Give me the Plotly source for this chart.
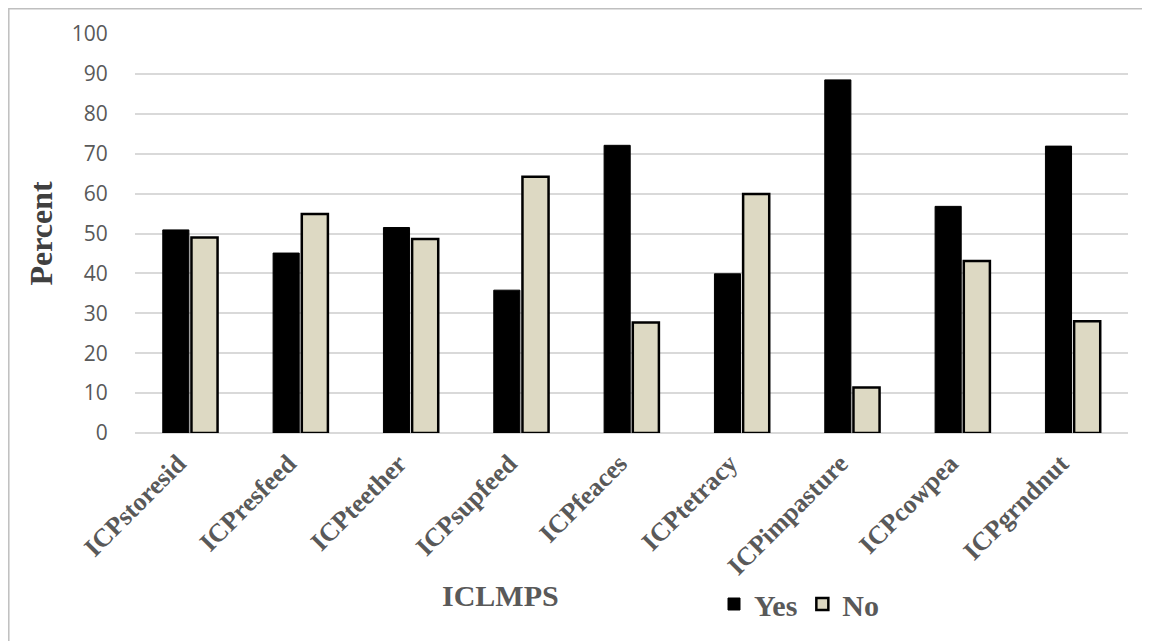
import plotly.graph_objects as go

categories = ["ICPstoresid", "ICPresfeed", "ICPteether", "ICPsupfeed", "ICPfeaces",
              "ICPtetracy", "ICPimpasture", "ICPcowpea", "ICPgrndnut"]
yes_values = [50.9, 45.1, 51.5, 35.8, 72.1, 39.9, 88.5, 56.8, 71.9]
no_values = [49.0, 54.9, 48.6, 64.2, 27.7, 59.9, 11.4, 43.1, 28.0]
y_ticks = [0, 10, 20, 30, 40, 50, 60, 70, 80, 90, 100]

# page has an 8px body margin; the figure fills the rest of the 1150x641 window
OFF = 8
W, H = 1150 - OFF, 641 - OFF
# plot area in page pixels: x 135..1128, y 34..434
L, R, T, B = 135 - OFF, 1150 - 1128, 34 - OFF, 641 - 434
pw, ph = W - L - R, H - T - B

def px_x(x):  # page pixel -> paper
    return (x - OFF - L) / pw

def px_y(y):
    return (H - B - (y - OFF)) / ph

serif = "Liberation Serif, Times New Roman, serif"
sans = "Open Sans, Liberation Sans, sans-serif"

fig = go.Figure()
fig.add_trace(go.Bar(x=categories, y=yes_values, name="Yes",
                     marker=dict(color="#000000", line=dict(color="#000000", width=1))))
fig.add_trace(go.Bar(x=categories, y=no_values, name="No",
                     marker=dict(color="#DDD9C3", line=dict(color="#000000", width=2.5))))

fig.update_layout(
    width=W, height=H,
    margin=dict(l=L, r=R, t=T, b=B),
    paper_bgcolor="white", plot_bgcolor="white",
    barmode="group", bargap=0.48, bargroupgap=0.09,
    showlegend=True,
    legend=dict(orientation="h", x=px_x(714), y=px_y(604), xanchor="left", yanchor="middle",
                font=dict(family=serif, size=30, color="#595959", weight="bold"),
                itemwidth=30, bgcolor="rgba(0,0,0,0)"),
    xaxis=dict(type="category", showgrid=False, zeroline=False, showline=False,
               tickangle=-45, ticks="outside", ticklen=4, tickcolor="rgba(0,0,0,0)",
               ticklabelshift=-12,
               tickfont=dict(family=serif, size=26, color="#595959", weight="bold"),
               automargin=False),
    yaxis=dict(range=[0, 100], tickvals=y_ticks, showgrid=True, gridcolor="#D9D9D9", gridwidth=2,
               zeroline=True, zerolinecolor="#D9D9D9", zerolinewidth=2, showline=False,
               ticks="outside", ticklen=22, tickcolor="rgba(0,0,0,0)",
               tickfont=dict(family=sans, size=21, color="#595959"),
               title=dict(text="Percent", standoff=9,
                          font=dict(family=serif, size=32, color="#404040", weight="bold")),
               automargin=False),
    annotations=[dict(text="ICLMPS", x=px_x(500), y=px_y(597), xref="paper", yref="paper",
                      showarrow=False, xanchor="center", yanchor="middle",
                      font=dict(family=serif, size=30, color="#595959", weight="bold"))],
    shapes=[dict(type="rect", xref="paper", yref="paper",
                 x0=px_x(OFF + 0.8), x1=px_x(1170), y0=px_y(660), y1=px_y(OFF + 0.8),
                 line=dict(color="#BFBFBF", width=1.5), fillcolor="rgba(0,0,0,0)", layer="below")],
)

fig.write_html("out.html")
